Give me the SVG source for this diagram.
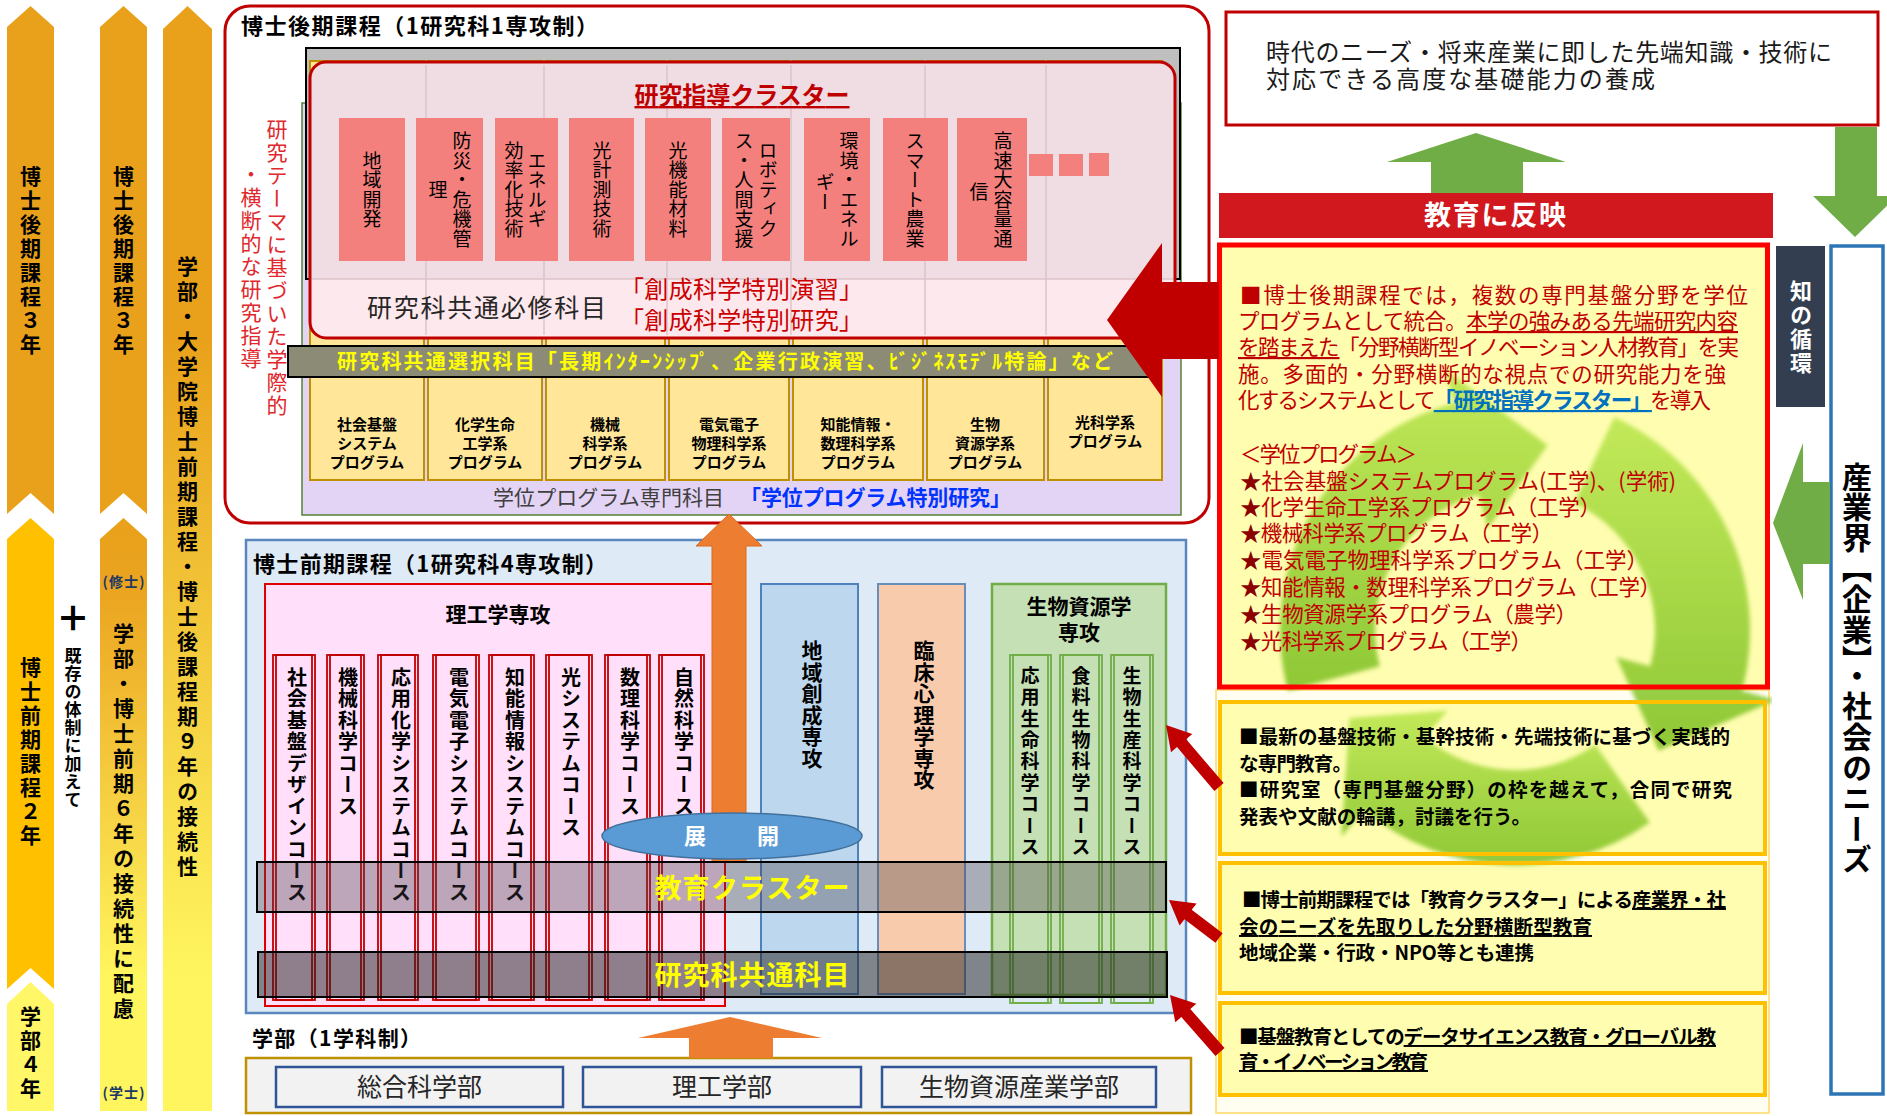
<svg xmlns="http://www.w3.org/2000/svg" width="1887" height="1116" viewBox="0 0 1887 1116">
<defs>
<style>
text{font-family:"Noto Sans CJK JP","Noto Sans CJK SC",sans-serif}
.v{writing-mode:vertical-rl}
.b{font-weight:bold}
.colT{font-size:21px;font-weight:bold;letter-spacing:3px}
.clu{font-size:19px;letter-spacing:0.5px}
.crs{font-size:20px;font-weight:bold;letter-spacing:1.5px}
.gcrs{font-size:19px;font-weight:bold;letter-spacing:2.4px}
.prg{font-size:15px;font-weight:bold}
.rt{font-size:21.5px;fill:#C00000}
.star{fill:#8B0000}
.yt{font-size:19.5px;font-weight:bold}
.u{text-decoration:underline}
.cbox{fill:#F4807E}
.pcol{fill:#FFE699;stroke:#BF9000;stroke-width:2}
.course{fill:none;stroke:#C00000;stroke-width:1.8}
.gcourse{fill:none;stroke:#70AD47;stroke-width:1.8}
.ybox{fill:none;stroke:#FFC000;stroke-width:4}
.gr{fill:#70AD47}
.rd{fill:#C00000}
.deg{font-size:14px;font-weight:bold;fill:#203864}
</style>
<linearGradient id="gradC" x1="0" y1="0" x2="0" y2="1">
<stop offset="0" stop-color="#E9A11B"/><stop offset="0.3" stop-color="#E9A11B"/><stop offset="0.88" stop-color="#FFF65F"/><stop offset="1" stop-color="#FFF65F"/>
</linearGradient>
<linearGradient id="gradB" x1="0" y1="0" x2="0" y2="1">
<stop offset="0" stop-color="#E9A11B"/><stop offset="0.12" stop-color="#EBA420"/><stop offset="0.78" stop-color="#FFF65F"/><stop offset="1" stop-color="#FFF65F"/>
</linearGradient>
<linearGradient id="pinkG" x1="0" y1="0" x2="0" y2="1">
<stop offset="0" stop-color="#EFDDE3"/><stop offset="0.785" stop-color="#EFDDE3"/><stop offset="0.786" stop-color="#FDE9ED"/><stop offset="1" stop-color="#FDE9ED"/>
</linearGradient>
<linearGradient id="recG" x1="0" y1="0" x2="0" y2="1">
<stop offset="0" stop-color="#B8E64A"/><stop offset="1" stop-color="#7CBF22"/>
</linearGradient>
<filter id="soft" x="-5%" y="-5%" width="110%" height="110%"><feGaussianBlur stdDeviation="2"/></filter>
<clipPath id="recClip"><rect x="1216" y="243" width="556" height="870"/></clipPath>
</defs>

<rect width="1887" height="1116" fill="#FFFFFF"/>

<!-- Left columns -->
<g id="left-columns">
<polygon points="7,27 30.5,6 54,27 54,514 30.5,493 7,514" fill="#E9A11B"/>
<polygon points="7,539 30.5,518 54,539 54,989 30.5,968 7,989" fill="#FFC000"/>
<polygon points="7,1004 30.5,982 54,1004 54,1111 7,1111" fill="#FFF767"/>
<polygon points="100,27 123.5,6 147,27 147,514 123.5,493 100,514" fill="#E9A11B"/>
<polygon points="100,539 123.5,518 147,539 147,1111 100,1111" fill="url(#gradB)"/>
<polygon points="163,29 187.5,6 212,29 212,1111 163,1111" fill="url(#gradC)"/>
<text class="v colT" x="30.5" y="262" text-anchor="middle">博士後期課程３年</text>
<text class="v colT" x="30.5" y="753" text-anchor="middle">博士前期課程２年</text>
<text class="v colT" x="30.5" y="1054" text-anchor="middle">学部４年</text>
<text class="v colT" x="123.5" y="262" text-anchor="middle">博士後期課程３年</text>
<text class="v colT" x="123.5" y="823" text-anchor="middle" style="letter-spacing:4px">学部・博士前期６年の接続性に配慮</text>
<text class="deg" x="123.5" y="587" text-anchor="middle" textLength="42">(修士)</text>
<text class="deg" x="123.5" y="1098" text-anchor="middle" textLength="42">(学士)</text>
<text class="v colT" x="187.5" y="568" text-anchor="middle" style="letter-spacing:4px">学部・大学院博士前期課程・博士後課程期９年の接続性</text>
<text x="73" y="631" text-anchor="middle" font-size="34" font-weight="900">＋</text>
<text class="v b" x="73" y="728" text-anchor="middle" font-size="17" style="letter-spacing:1px">既存の体制に加えて</text>
</g>

<!-- Doctoral (later) course -->
<g id="doctor-later">
<rect x="225" y="6" width="984" height="517" rx="25" fill="#FFFFFF" stroke="#C00000" stroke-width="3"/>
<text x="241" y="34" font-size="22" font-weight="bold" textLength="357">博士後期課程（1研究科1専攻制）</text>
<rect x="302" y="103" width="879" height="412" fill="#E3D3F4" stroke="#548235" stroke-width="1.5"/>
<rect x="306" y="48" width="874" height="231" fill="#BFBFBF" stroke="#000000" stroke-width="2"/>
<rect class="pcol" x="310" y="61" width="114" height="419"/>
<rect class="pcol" x="428" y="61" width="114" height="419"/>
<rect class="pcol" x="546" y="61" width="119" height="419"/>
<rect class="pcol" x="669" y="61" width="120" height="419"/>
<rect class="pcol" x="793" y="61" width="130" height="419"/>
<rect class="pcol" x="927" y="61" width="117" height="419"/>
<rect class="pcol" x="1048" y="61" width="114" height="419"/>
</g>

<g id="research-cluster">
<rect x="310" y="62" width="865" height="276" rx="16" fill="url(#pinkG)" stroke="#C00000" stroke-width="3"/>
<g stroke="#DCC3C8" stroke-width="1.5">
<line x1="426" y1="65" x2="426" y2="335"/><line x1="544" y1="65" x2="544" y2="335"/><line x1="667" y1="65" x2="667" y2="335"/><line x1="791" y1="65" x2="791" y2="335"/><line x1="925" y1="65" x2="925" y2="335"/><line x1="1046" y1="65" x2="1046" y2="335"/>
<line x1="312" y1="279" x2="1173" y2="279"/>
</g>
<text x="742" y="104" text-anchor="middle" font-size="24" font-weight="bold" fill="#C00000" textLength="215" class="u">研究指導クラスター</text>
<rect class="cbox" x="339" y="118" width="66" height="143"/>
<rect class="cbox" x="416" y="118" width="67" height="143"/>
<rect class="cbox" x="495" y="118" width="63" height="143"/>
<rect class="cbox" x="569" y="118" width="65" height="143"/>
<rect class="cbox" x="645" y="118" width="66" height="143"/>
<rect class="cbox" x="722" y="118" width="68" height="143"/>
<rect class="cbox" x="804" y="118" width="66" height="143"/>
<rect class="cbox" x="883" y="118" width="65" height="143"/>
<rect class="cbox" x="957" y="118" width="70" height="143"/>
<rect class="cbox" x="1029" y="154" width="24" height="22"/>
<rect class="cbox" x="1059" y="154" width="24" height="22"/>
<rect class="cbox" x="1089" y="153" width="20" height="23"/>
<text class="v clu" x="372" y="190" text-anchor="middle">地域開発</text>
<text class="v clu" x="462" y="190" text-anchor="middle">防災・危機管</text>
<text class="v clu" x="438" y="190" text-anchor="middle">理</text>
<text class="v clu" x="537" y="190" text-anchor="middle">エネルギ</text>
<text class="v clu" x="514" y="190" text-anchor="middle">効率化技術</text>
<text class="v clu" x="602" y="190" text-anchor="middle">光計測技術</text>
<text class="v clu" x="678" y="190" text-anchor="middle">光機能材料</text>
<text class="v clu" x="768" y="190" text-anchor="middle">ロボティク</text>
<text class="v clu" x="744" y="190" text-anchor="middle">ス・人間支援</text>
<text class="v clu" x="849" y="190" text-anchor="middle">環境・エネル</text>
<text class="v clu" x="825" y="192" text-anchor="middle">ギー</text>
<text class="v clu" x="915" y="190" text-anchor="middle">スマート農業</text>
<text class="v clu" x="1003" y="190" text-anchor="middle">高速大容量通</text>
<text class="v clu" x="979" y="192" text-anchor="middle">信</text>
<text x="367" y="317" font-size="25" fill="#262626" textLength="239">研究科共通必修科目</text>
<text x="620" y="298" font-size="24" fill="#CC0000" textLength="243">「創成科学特別演習」</text>
<text x="620" y="329" font-size="24" fill="#CC0000" textLength="243">「創成科学特別研究」</text>
</g>

<g id="common-elective">
<rect x="288" y="346" width="872" height="31" fill="#8C8B76" stroke="#000000" stroke-width="2"/>
<text x="337" y="369" font-size="20" font-weight="bold" fill="#FFFF00" textLength="776">研究科共通選択科目「長期ｲﾝﾀｰﾝｼｯﾌﾟ、企業行政演習、ﾋﾞｼﾞﾈｽﾓﾃﾞﾙ特論」など</text>
</g>

<g id="degree-programs">
<text class="prg" text-anchor="middle"><tspan x="367" y="430">社会基盤</tspan><tspan x="367" y="449">システム</tspan><tspan x="367" y="468">プログラム</tspan></text>
<text class="prg" text-anchor="middle"><tspan x="485" y="430">化学生命</tspan><tspan x="485" y="449">工学系</tspan><tspan x="485" y="468">プログラム</tspan></text>
<text class="prg" text-anchor="middle"><tspan x="605" y="430">機械</tspan><tspan x="605" y="449">科学系</tspan><tspan x="605" y="468">プログラム</tspan></text>
<text class="prg" text-anchor="middle"><tspan x="729" y="430">電気電子</tspan><tspan x="729" y="449">物理科学系</tspan><tspan x="729" y="468">プログラム</tspan></text>
<text class="prg" text-anchor="middle"><tspan x="858" y="430">知能情報・</tspan><tspan x="858" y="449">数理科学系</tspan><tspan x="858" y="468">プログラム</tspan></text>
<text class="prg" text-anchor="middle"><tspan x="985" y="430">生物</tspan><tspan x="985" y="449">資源学系</tspan><tspan x="985" y="468">プログラム</tspan></text>
<text class="prg" text-anchor="middle"><tspan x="1105" y="428">光科学系</tspan><tspan x="1105" y="447">プログラム</tspan></text>
<text x="493" y="505" font-size="21" fill="#404040" textLength="231">学位プログラム専門科目</text>
<text x="740" y="505" font-size="21" font-weight="bold" fill="#0033FF" textLength="271">「学位プログラム特別研究」</text>
</g>

<g id="cluster-note">
<text class="v" x="277" y="268" text-anchor="middle" font-size="21" fill="#E0282D" style="letter-spacing:2px">研究テーマに基づいた学際的</text>
<text class="v" x="251" y="267" text-anchor="middle" font-size="21" fill="#E0282D" style="letter-spacing:2px">・横断的な研究指導</text>
</g>

<!-- Doctoral (former) course -->
<g id="doctor-former">
<rect x="246" y="540" width="940" height="473" fill="#DEEAF6" stroke="#5B87BF" stroke-width="2.5"/>
<text x="253" y="572" font-size="22" font-weight="bold" textLength="354">博士前期課程（1研究科4専攻制）</text>
</g>

<g id="rikou-major">
<rect x="265" y="584" width="460" height="422" fill="#FFDFF9" stroke="#E00000" stroke-width="2"/>
<text x="498" y="622" text-anchor="middle" font-size="21" font-weight="bold">理工学専攻</text>
<rect class="course" x="273" y="655" width="42" height="345"/><rect class="course" x="276" y="655" width="36" height="345"/>
<rect class="course" x="327" y="655" width="37" height="345"/><rect class="course" x="330" y="655" width="31" height="345"/>
<rect class="course" x="378" y="655" width="40" height="345"/><rect class="course" x="381" y="655" width="34" height="345"/>
<rect class="course" x="433" y="655" width="46" height="345"/><rect class="course" x="436" y="655" width="40" height="345"/>
<rect class="course" x="489" y="655" width="45" height="345"/><rect class="course" x="492" y="655" width="39" height="345"/>
<rect class="course" x="546" y="655" width="46" height="345"/><rect class="course" x="549" y="655" width="40" height="345"/>
<rect class="course" x="605" y="655" width="45" height="345"/><rect class="course" x="608" y="655" width="39" height="345"/>
<rect class="course" x="659" y="655" width="45" height="345"/><rect class="course" x="662" y="655" width="39" height="345"/>
<text class="v crs" x="297" y="667">社会基盤デザインコース</text>
<text class="v crs" x="348" y="667">機械科学コース</text>
<text class="v crs" x="401" y="667">応用化学システムコース</text>
<text class="v crs" x="459" y="667">電気電子システムコース</text>
<text class="v crs" x="515" y="667">知能情報システムコース</text>
<text class="v crs" x="571" y="667">光システムコース</text>
<text class="v crs" x="630" y="667">数理科学コース</text>
<text class="v crs" x="684" y="667">自然科学コース</text>
</g>

<g id="chiiki-major">
<rect x="761" y="584" width="97" height="410" fill="#BDD7EE" stroke="#4F81BD" stroke-width="2"/>
<text class="v b" x="812" y="640" font-size="21" style="letter-spacing:0.5px">地域創成専攻</text>
</g>

<g id="rinsho-major">
<rect x="878" y="584" width="87" height="410" fill="#F8CBAD" stroke="#6A8EBB" stroke-width="2"/>
<text class="v b" x="924" y="640" font-size="21" style="letter-spacing:0.5px">臨床心理学専攻</text>
</g>

<g id="seibutsu-major">
<rect x="992" y="584" width="174" height="411" fill="#C5E0B4" stroke="#70AD47" stroke-width="2.5"/>
<text x="1079" y="614" text-anchor="middle" font-size="21" font-weight="bold">生物資源学</text>
<text x="1079" y="640" text-anchor="middle" font-size="21" font-weight="bold">専攻</text>
<rect class="gcourse" x="1010" y="655" width="41" height="348"/><rect class="gcourse" x="1013" y="655" width="35" height="348"/>
<rect class="gcourse" x="1060" y="655" width="42" height="348"/><rect class="gcourse" x="1063" y="655" width="36" height="348"/>
<rect class="gcourse" x="1111" y="655" width="42" height="348"/><rect class="gcourse" x="1114" y="655" width="36" height="348"/>
<text class="v gcrs" x="1030" y="666">応用生命科学コース</text>
<text class="v gcrs" x="1081" y="666">食料生物科学コース</text>
<text class="v gcrs" x="1132" y="666">生物生産科学コース</text>
</g>

<!-- Undergraduate -->
<g id="undergrad">
<text x="252" y="1046" font-size="21" font-weight="bold" textLength="169">学部（1学科制）</text>
<rect x="246" y="1058" width="945" height="55" fill="#F2F2F2" stroke="#BF9000" stroke-width="2.5"/>
</g>
<g id="sougou">
<rect x="276" y="1067" width="287" height="40" fill="#F2F2F2" stroke="#2F5597" stroke-width="2.5"/>
<text x="419.5" y="1096" text-anchor="middle" font-size="25" fill="#262626">総合科学部</text>
</g>
<g id="rikou">
<rect x="583" y="1067" width="278" height="40" fill="#F2F2F2" stroke="#2F5597" stroke-width="2.5"/>
<text x="722" y="1096" text-anchor="middle" font-size="25" fill="#262626">理工学部</text>
</g>
<g id="seibutsu">
<rect x="882" y="1067" width="274" height="40" fill="#F2F2F2" stroke="#2F5597" stroke-width="2.5"/>
<text x="1019" y="1096" text-anchor="middle" font-size="25" fill="#262626">生物資源産業学部</text>
</g>

<!-- Right side -->
<g id="goal">
<rect x="1226" y="12" width="652" height="113" fill="#FFFFFF" stroke="#C00000" stroke-width="3"/>
<text x="1266" y="61" font-size="24" fill="#1A1A1A" textLength="566">時代のニーズ・将来産業に即した先端知識・技術に</text>
<text x="1266" y="88" font-size="24" fill="#1A1A1A" textLength="389">対応できる高度な基礎能力の養成</text>
</g>

<g id="reflect">
<rect x="1219" y="193" width="554" height="45" fill="#D0181E"/>
<text x="1495" y="225" text-anchor="middle" font-size="27" font-weight="bold" fill="#FFFFFF" textLength="142">教育に反映</text>
</g>

<g id="explain">
<rect x="1216" y="690" width="553" height="423" fill="#FFFEF0" stroke="#FFD966" stroke-width="1.5"/>
<rect x="1219.5" y="245" width="548" height="442" fill="#FFFDB0"/>
<rect x="1220" y="702" width="545" height="152" fill="#FFFDB0"/>
<rect x="1220" y="863" width="545" height="130" fill="#FFFDB0"/>
<rect x="1220" y="1003" width="545" height="92" fill="#FFFDB0"/>
<g clip-path="url(#recClip)">
<g fill="url(#recG)" opacity="0.85" filter="url(#soft)">
<path d="M1288.0,690.8 A235,235 0 0 1 1454.2,403.0 L1445.1,369.2 L1547.6,445.3 L1487.8,528.6 L1478.8,494.8 A140,140 0 0 0 1379.8,666.2 Z"/>
<path d="M1614.3,417.0 A235,235 0 0 1 1742.0,690.8 L1775.8,699.9 L1658.6,750.5 L1616.4,657.2 L1650.2,666.2 A140,140 0 0 0 1574.2,503.1 Z"/>
<path d="M1649.8,822.5 A235,235 0 0 1 1363.9,810.0 L1341.4,836.8 L1349.5,718.0 L1447.5,710.4 L1425.0,737.2 A140,140 0 0 0 1595.3,744.7 Z"/>
</g>
</g>
<rect x="1219.5" y="245" width="548" height="442" fill="none" stroke="#FF0000" stroke-width="5"/>
<text class="rt" x="1240" y="303" textLength="508">■博士後期課程では，複数の専門基盤分野を学位</text>
<text class="rt" x="1238" y="329" textLength="500">プログラムとして統合。<tspan class="u">本学の強みある先端研究内容</tspan></text>
<text class="rt" x="1238" y="355" textLength="501"><tspan class="u">を踏まえた</tspan>「分野横断型イノベーション人材教育」を実</text>
<text class="rt" x="1238" y="382" textLength="488">施。多面的・分野横断的な視点での研究能力を強</text>
<text class="rt" x="1238" y="408" textLength="473">化するシステムとして<tspan class="u" fill="#0070C0" font-weight="bold">「研究指導クラスター」</tspan>を導入</text>
<text class="rt" x="1240" y="462" textLength="177">＜学位プログラム＞</text>
<text class="rt" x="1240" y="489" textLength="436"><tspan class="star">★</tspan>社会基盤システムプログラム(工学)、(学術)</text>
<text class="rt" x="1240" y="515" textLength="361"><tspan class="star">★</tspan>化学生命工学系プログラム（工学）</text>
<text class="rt" x="1240" y="541" textLength="313"><tspan class="star">★</tspan>機械科学系プログラム（工学）</text>
<text class="rt" x="1240" y="568" textLength="408"><tspan class="star">★</tspan>電気電子物理科学系プログラム（工学）</text>
<text class="rt" x="1240" y="595" textLength="421"><tspan class="star">★</tspan>知能情報・数理科学系プログラム（工学）</text>
<text class="rt" x="1240" y="622" textLength="337"><tspan class="star">★</tspan>生物資源学系プログラム（農学）</text>
<text class="rt" x="1240" y="649" textLength="292"><tspan class="star">★</tspan>光科学系プログラム（工学）</text>
</g>

<g id="box-practice">
<rect class="ybox" x="1220" y="702" width="545" height="152"/>
<text class="yt" x="1239" y="744" textLength="491">■最新の基盤技術・基幹技術・先端技術に基づく実践的</text>
<text class="yt" x="1239" y="771" textLength="113">な専門教育。</text>
<text class="yt" x="1239" y="797" textLength="493">■研究室（専門基盤分野）の枠を越えて，合同で研究</text>
<text class="yt" x="1239" y="824" textLength="292">発表や文献の輪講，討議を行う。</text>
</g>

<g id="box-cluster">
<rect class="ybox" x="1220" y="863" width="545" height="130"/>
<text class="yt" x="1242" y="907" textLength="484">■博士前期課程では「教育クラスター」による<tspan class="u">産業界・社</tspan></text>
<text class="yt u" x="1239" y="934" textLength="353">会のニーズを先取りした分野横断型教育</text>
<text class="yt" x="1239" y="960" textLength="295">地域企業・行政・NPO等とも連携</text>
</g>

<g id="box-basic">
<rect class="ybox" x="1220" y="1003" width="545" height="92"/>
<text class="yt" x="1239" y="1044" textLength="477">■基盤教育としての<tspan class="u">データサイエンス教育・グローバル教</tspan></text>
<text class="yt u" x="1239" y="1069" textLength="189">育・イノベーション教育</text>
</g>

<g id="knowledge-cycle">
<rect x="1776" y="246" width="49" height="161" fill="#333F50"/>
<text class="v b" x="1801" y="328" text-anchor="middle" font-size="22" fill="#FFFFFF" style="letter-spacing:2px">知の循環</text>
</g>

<g id="industry">
<rect x="1831" y="246" width="52" height="848" fill="#FFFFFF" stroke="#2E75B6" stroke-width="3.5"/>
<text class="v b" x="1857" y="668" text-anchor="middle" font-size="30" style="letter-spacing:0.6px">産業界【企業】・社会のニーズ</text>
</g>

<!-- Connectors -->
<g id="connectors">
<polygon points="729,514 762,546 746,546 746,862 712,862 712,546 696,546" fill="#ED7D31" stroke="#D86A20" stroke-width="1"/>
<polygon class="rd" points="1107,320 1162,243 1162,282 1219,282 1219,359 1162,359 1162,397"/>
<polygon class="rd" points="1223.6,783.1 1186.2,739.3 1192.2,734.1 1166,725 1171.0,752.3 1177.0,747.1 1214.4,790.9"/>
<polygon class="rd" points="1222.6,933.2 1191.7,909.7 1196.6,903.4 1169,900 1179.6,925.6 1184.5,919.3 1215.4,942.8"/>
<polygon class="rd" points="1224.5,1048.0 1190.3,1009.0 1196.3,1003.8 1170,995 1175.3,1022.2 1181.3,1017.0 1215.5,1056.0"/>
<polygon points="730,1017 822,1038 773,1038 773,1058 689,1058 689,1038 638,1038" fill="#ED7D31"/>
<polygon class="gr" points="1476,133 1566,162 1523,162 1523,193 1431,193 1431,162 1387,162"/>
<polygon class="gr" points="1835,127 1877,127 1877,196 1897,196 1855,237 1813,196 1835,196"/>
<polygon class="gr" points="1773,523 1803,443 1803,482 1830,482 1830,564 1803,564 1803,600"/>
</g>

<g id="expand">
<ellipse cx="732" cy="836" rx="130" ry="23" fill="#5B9BD5" stroke="#41719C" stroke-width="1.5"/>
<text text-anchor="middle" font-size="22" font-weight="bold" fill="#FFFFFF"><tspan x="695" y="844">展</tspan><tspan x="768" y="844">開</tspan></text>
</g>

<g id="edu-cluster">
<rect x="257" y="862" width="909" height="50" fill="rgb(70,60,70)" fill-opacity="0.35" stroke="#000000" stroke-width="2"/>
<text x="752" y="898" text-anchor="middle" font-size="27" font-weight="bold" fill="#FFFF00" textLength="195">教育クラスター</text>
</g>

<g id="common-subjects">
<rect x="258" y="952" width="909" height="45" fill="rgb(31,31,31)" fill-opacity="0.5" stroke="#000000" stroke-width="2"/>
<text x="752" y="985" text-anchor="middle" font-size="27" font-weight="bold" fill="#FFFF00" textLength="195">研究科共通科目</text>
</g>
</svg>
